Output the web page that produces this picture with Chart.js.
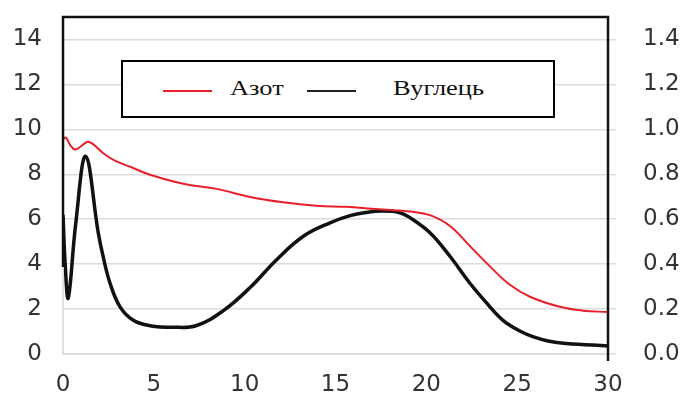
<!DOCTYPE html>
<html>
<head>
<meta charset="utf-8">
<script src="https://cdn.jsdelivr.net/npm/chart.js@4"></script>
<style>
  body { margin: 0; background: #fff; }
  .wrap { position: relative; width: 685px; height: 400px; }
  .legend-box {
    position: absolute; left: 121px; top: 60px; width: 430px; height: 54px;
    border: 2px solid #000; background: #fff;
    font-family: "Liberation Serif", "DejaVu Serif", serif; font-size: 22px; line-height: 22px; color: #111;
  }
  .legend-box .sw { position: absolute; top: 28px; height: 2px; width: 49px; }
  .legend-box .lbl { position: absolute; top: 15px; transform: scaleX(1.2); transform-origin: left center; }
</style>
</head>
<body>
<div class="wrap">
  <canvas id="chart" width="685" height="400"></canvas>
  <div class="legend-box">
    <span class="sw" style="left:40px; background:#e8202a;"></span>
    <span class="lbl" style="left:107px;">Азот</span>
    <span class="sw" style="left:184px; background:#222;"></span>
    <span class="lbl" style="left:270px;">Вуглець</span>
  </div>
</div>
<script>
  // values
  const nitrogenX = [0, 0.15, 0.4, 0.66, 1.0, 1.36, 1.67, 2.2, 2.83, 3.8, 4.79, 6.62, 8.46, 10.3, 12.13, 13.96, 15.6, 17, 18.2, 19.1, 20.2, 21.3, 22.4, 23.5, 24.6, 25.7, 27.35, 28.6, 30];
  const nitrogenY = [9.56, 9.63, 9.3, 9.1, 9.25, 9.45, 9.33, 8.95, 8.62, 8.3, 7.98, 7.58, 7.35, 6.99, 6.75, 6.6, 6.55, 6.47, 6.4, 6.34, 6.18, 5.7, 4.8, 3.9, 3.08, 2.55, 2.1, 1.93, 1.87];

  const carbonX = [0, 0.12, 0.29, 0.7, 1.25, 1.94, 2.22, 2.59, 3.14, 3.87, 4.79, 6.07, 7.36, 8.83, 10.3, 11.76, 13.23, 14.7, 15.8, 16.7, 17.6, 18.5, 19.1, 20.2, 21.3, 22.4, 23.5, 24.05, 24.4, 25.2, 25.9, 26.7, 27.7, 30];
  const carbonY = [6.2, 4.0, 2.5, 5.8, 8.8, 5.4, 4.3, 3.15, 2.1, 1.5, 1.26, 1.19, 1.27, 1.93, 2.96, 4.2, 5.24, 5.84, 6.16, 6.3, 6.36, 6.3, 6.07, 5.4, 4.35, 3.15, 2.1, 1.62, 1.38, 1.0, 0.76, 0.58, 0.47, 0.36];

  const leftTicks = [0, 2, 4, 6, 8, 10, 12, 14];
  const rightTicks = [0, 0.2, 0.4, 0.6, 0.8, 1.0, 1.2, 1.4];
  const xTicks = [0, 5, 10, 15, 20, 25, 30];

  const toPoints = (xs, ys) => xs.map((x, i) => ({ x: x, y: ys[i] }));

  // frame round the plot: black top, left and right, grey bottom
  const framePlugin = {
    id: 'frame',
    afterDraw(chart) {
      const { ctx, chartArea: a } = chart;
      ctx.save();
      ctx.strokeStyle = '#d9d9d9';
      ctx.lineWidth = 1.5;
      ctx.beginPath();
      ctx.moveTo(a.left, a.top + 250);
      ctx.lineTo(a.left, a.bottom);
      ctx.lineTo(a.right, a.bottom);
      ctx.stroke();
      ctx.strokeStyle = '#111';
      ctx.lineWidth = 2.5;
      ctx.beginPath();
      ctx.moveTo(a.left, a.top + 250);
      ctx.lineTo(a.left, a.top);
      ctx.lineTo(a.right, a.top);
      ctx.lineTo(a.right, a.bottom + 7);
      ctx.stroke();
      ctx.restore();
    }
  };

  const noPad = (s) => { s.paddingTop = 0; s.paddingBottom = 0; s.paddingLeft = 0; s.paddingRight = 0; };
  const tickFont = { family: 'DejaVu Sans, sans-serif', size: 23 };

  new Chart(document.getElementById('chart').getContext('2d'), {
    type: 'line',
    data: {
      datasets: [
        {
          label: 'Азот',
          data: toPoints(nitrogenX, nitrogenY),
          borderColor: '#e8202a',
          borderWidth: 2,
          pointRadius: 0,
          tension: 0.4,
          yAxisID: 'y',
        },
        {
          label: 'Вуглець',
          data: toPoints(carbonX, carbonY),
          borderColor: '#111',
          borderWidth: 3.5,
          pointRadius: 0,
          tension: 0.4,
          yAxisID: 'y',
        },
      ],
    },
    options: {
      responsive: false,
      animation: false,
      layout: { padding: { top: 17, left: 0, right: 0, bottom: 0 } },
      plugins: { legend: { display: false }, tooltip: { enabled: false } },
      scales: {
        x: {
          type: 'linear', min: 0, max: 30,
          afterBuildTicks: (s) => { s.ticks = xTicks.map(v => ({ value: v })); },
          afterFit: (s) => { s.height = 46; noPad(s); },
          grid: { display: false, drawTicks: false },
          border: { display: false },
          ticks: { color: '#333', font: tickFont, padding: 17, maxRotation: 0 },
        },
        y: {
          position: 'left', min: 0, max: 15,
          afterBuildTicks: (s) => { s.ticks = leftTicks.map(v => ({ value: v })); },
          afterFit: (s) => { s.width = 63; noPad(s); },
          grid: { color: '#dcdcdc', lineWidth: 1.5, drawTicks: false },
          border: { display: false },
          ticks: { color: '#333', font: tickFont, padding: 21 },
        },
        y2: {
          position: 'right', min: 0, max: 1.5,
          afterBuildTicks: (s) => { s.ticks = rightTicks.map(v => ({ value: v })); },
          afterFit: (s) => { s.width = 77; noPad(s); },
          grid: { drawOnChartArea: false, color: '#dcdcdc', lineWidth: 1.5, tickLength: 8 },
          border: { display: false },
          ticks: { color: '#333', font: tickFont, padding: 27, callback: (v) => v.toFixed(1) },
        },
      },
    },
    plugins: [framePlugin],
  });
</script>
</body>
</html>
